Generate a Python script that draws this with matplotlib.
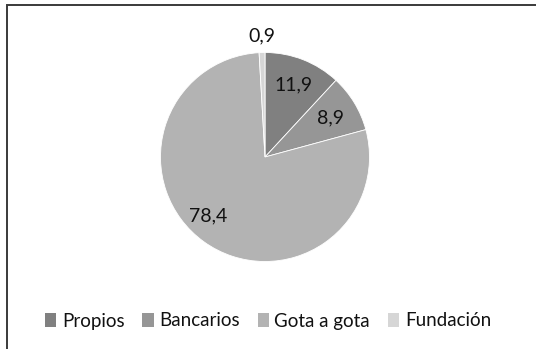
import matplotlib
matplotlib.use("Agg")
import matplotlib.pyplot as plt
from matplotlib.patches import Rectangle, Patch
import numpy as np

categories = ["Propios", "Bancarios", "Gota a gota", "Fundación"]
values = [11.9, 8.9, 78.4, 0.9]
labels = ["11,9", "8,9", "78,4", "0,9"]
colors = ["#808080", "#969696", "#b3b3b3", "#d6d6d6"]

plt.rcParams['font.family'] = ['Lato', 'DejaVu Sans']

fig = plt.figure(figsize=(5.36, 3.49), dpi=100)
fig.patch.set_facecolor("white")

# outer frame (extends past the right and bottom edges)
fig.add_artist(Rectangle((7/536, -0.1), 1.2, 1 - 5/349 + 0.1,
                         transform=fig.transFigure, fill=False,
                         edgecolor="#3a3a3a", linewidth=1.4))

r_px = 104.5
cx, cy = 265, 157
ax = fig.add_axes([(cx - r_px)/536, 1 - (cy + r_px)/349, 2*r_px/536, 2*r_px/349])
wedges, _ = ax.pie(values, colors=colors, startangle=90, counterclock=False,
                   radius=1.0, wedgeprops=dict(edgecolor="white", linewidth=0.6))
ax.set_xlim(-1, 1)
ax.set_ylim(-1, 1)
ax.set_aspect("auto")
ax.axis("off")

label_dist = [0.74, 0.73, 0.78, 1.16]
angle_shift = [0, 0, -8, 0]
for w, lab, d, s in zip(wedges, labels, label_dist, angle_shift):
    ang = np.deg2rad((w.theta1 + w.theta2) / 2 + s)
    ax.text(d*np.cos(ang), d*np.sin(ang), lab, ha="center", va="center",
            fontsize=14, color="#111111")

handles = [Patch(facecolor=c, edgecolor="none") for c in colors]
fig.legend(handles, categories, loc="center", bbox_to_anchor=(268/536, 1 - 321/349),
           ncol=4, frameon=False, fontsize=13.5, handlelength=0.6, handleheight=0.7,
           handletextpad=0.3, columnspacing=0.95, labelcolor="#111111")

fig.savefig("out.png", dpi=100)
